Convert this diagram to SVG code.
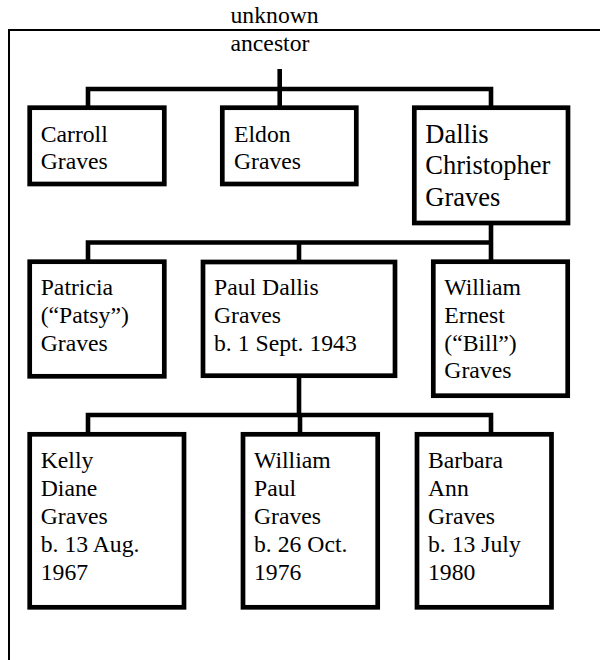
<svg xmlns="http://www.w3.org/2000/svg" width="600" height="660" viewBox="0 0 600 660">
<style>
.frame{fill:none;stroke:#000;stroke-width:2}
.box{fill:#fff;stroke:#000;stroke-width:4.7}
.conn{fill:none;stroke:#000;stroke-width:4.6;stroke-linejoin:miter}
.t{font-family:'Liberation Serif','Times New Roman',Times,'DejaVu Serif',serif;font-size:23.7px;fill:#000}
.big{font-size:26.5px}
</style>
<rect x="0" y="0" width="600" height="660" fill="#ffffff"/>
<g id="frame">
<path class="frame" d="M9,660 V30 H600"/>
</g>
<g id="ancestor" class="t" font-family="Liberation Serif, serif">
<text x="230.5" y="22.5">unknown</text>
<text x="230.5" y="51">ancestor</text>
</g>
<g id="connectors">
<path class="conn" d="M279.7,69 V106"/>
<path class="conn" d="M88,106 V89 H491 V106"/>
<path class="conn" d="M491,225 V260"/>
<path class="conn" d="M88,260 V242.5 H491"/>
<path class="conn" d="M299,242.5 V260"/>
<path class="conn" d="M299,378 V415"/>
<path class="conn" d="M88,432 V415 H491 V432"/>
<path class="conn" d="M300,415 V432"/>
</g>
<g id="carroll" class="t" font-family="Liberation Serif, serif">
<rect class="box" x="29.7" y="107.7" width="134.6" height="76.3"/>
<text x="40.7" y="141.7">Carroll</text>
<text x="40.7" y="169.3">Graves</text>
</g>
<g id="eldon" class="t" font-family="Liberation Serif, serif">
<rect class="box" x="222.3" y="107.7" width="134" height="76.3"/>
<text x="234" y="141.7">Eldon</text>
<text x="234" y="169.3">Graves</text>
</g>
<g id="dallis" class="t big" font-family="Liberation Serif, serif">
<rect class="box" x="414.3" y="107.7" width="153.7" height="115.3"/>
<text x="425.3" y="142.7">Dallis</text>
<text x="425.3" y="174.3">Christopher</text>
<text x="425.3" y="205.7">Graves</text>
</g>
<g id="patricia" class="t" font-family="Liberation Serif, serif">
<rect class="box" x="29.7" y="261.7" width="134.6" height="114.6"/>
<text x="40.7" y="295">Patricia</text>
<text x="40.7" y="323">(“Patsy”)</text>
<text x="40.7" y="350.7">Graves</text>
</g>
<g id="paul" class="t" font-family="Liberation Serif, serif">
<rect class="box" x="203" y="262" width="192" height="113.7"/>
<text x="214" y="295">Paul Dallis</text>
<text x="214" y="323">Graves</text>
<text x="214" y="350.7">b. 1 Sept. 1943</text>
</g>
<g id="william-ernest" class="t" font-family="Liberation Serif, serif">
<rect class="box" x="433.3" y="261.7" width="134.4" height="134"/>
<text x="444.3" y="294.5">William</text>
<text x="444.3" y="322.5">Ernest</text>
<text x="444.3" y="350.5">(“Bill”)</text>
<text x="444.3" y="378.3">Graves</text>
</g>
<g id="kelly" class="t" font-family="Liberation Serif, serif">
<rect class="box" x="29.7" y="434.3" width="154.3" height="173"/>
<text x="40.7" y="468.3">Kelly</text>
<text x="40.7" y="496.2">Diane</text>
<text x="40.7" y="524">Graves</text>
<text x="40.7" y="552">b. 13 Aug.</text>
<text x="40.7" y="580">1967</text>
</g>
<g id="william-paul" class="t" font-family="Liberation Serif, serif">
<rect class="box" x="243" y="434.3" width="134.7" height="173"/>
<text x="254" y="468.3">William</text>
<text x="254" y="496.2">Paul</text>
<text x="254" y="524">Graves</text>
<text x="254" y="552">b. 26 Oct.</text>
<text x="254" y="580">1976</text>
</g>
<g id="barbara" class="t" font-family="Liberation Serif, serif">
<rect class="box" x="417" y="434.3" width="134.5" height="173"/>
<text x="428" y="468.3">Barbara</text>
<text x="428" y="496.2">Ann</text>
<text x="428" y="524">Graves</text>
<text x="428" y="552">b. 13 July</text>
<text x="428" y="580">1980</text>
</g>
</svg>
